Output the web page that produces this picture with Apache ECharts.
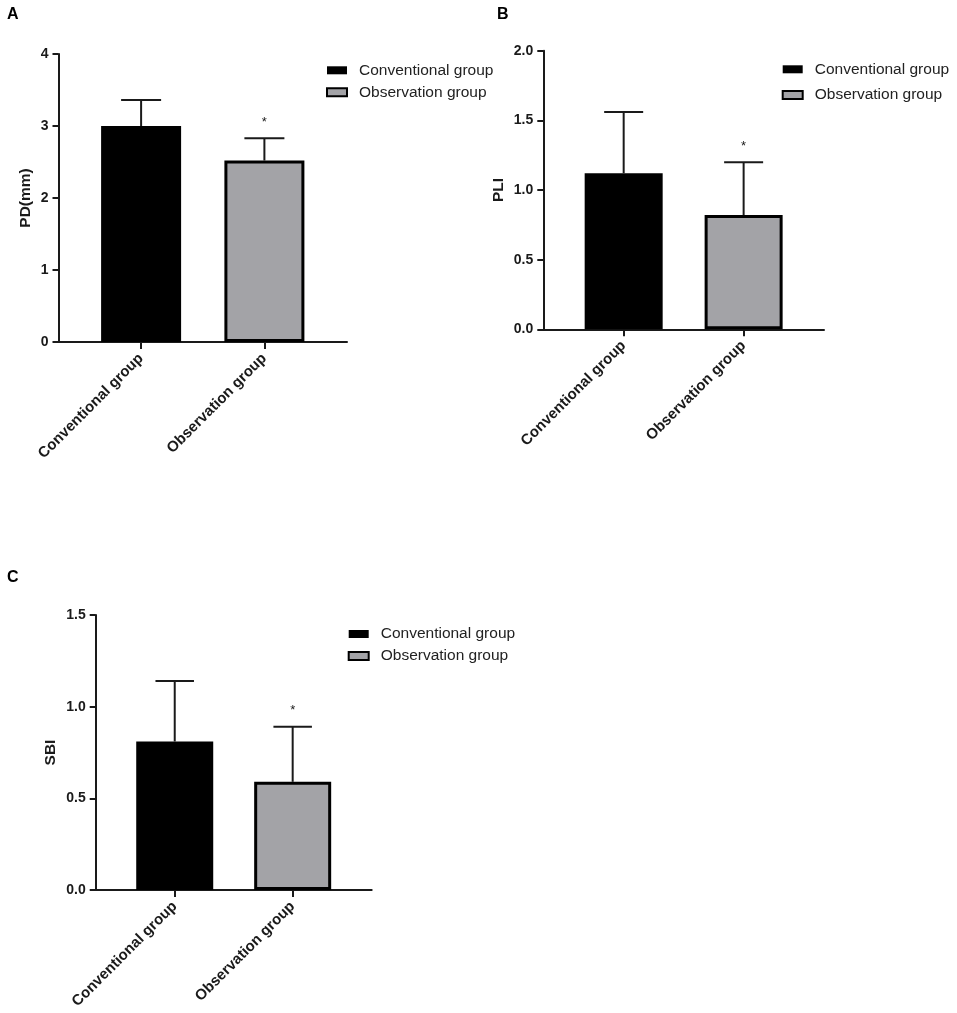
<!DOCTYPE html>
<html>
<head>
<meta charset="utf-8">
<script src="https://cdn.jsdelivr.net/npm/echarts@6/dist/echarts.min.js"></script>
<style>
  html, body { margin: 0; padding: 0; background: #fff; }
  #main { width: 957px; height: 1013px; }
</style>
</head>
<body>
<div id="main"></div>
<script>
// categories and legend names
var groups = ['Conventional group', 'Observation group']

// PD(mm)
var pdMean = [3.0, 2.52]
var pdSd = [0.36, 0.31]
var pdSig = ['', '*']

// PLI
var pliMean = [1.12, 0.82]
var pliSd = [0.44, 0.38]
var pliSig = ['', '*']

// SBI
var sbiMean = [0.81, 0.59]
var sbiSd = [0.33, 0.30]
var sbiSig = ['', '*']

var FONT = "'Liberation Sans', Arial, sans-serif"
var INK = '#1a1a1a'
var GREY = '#a3a3a7'

var myChart = echarts.init(document.getElementById('main'))

// panel layout (positions only)
var panels = [
    { key: 'A', name: 'PD(mm)', mean: pdMean, sd: pdSd, sig: pdSig, max: 4, interval: 1, digits: 0,
      grid: { left: 58.5, top: 54, width: 288.5, height: 288 }, nameGap: 25, barWidth: 80,
      legend: { left: 326, top: 62.3, itemGap: 6 }, title: { left: 7, top: 7 } },
    { key: 'B', name: 'PLI', mean: pliMean, sd: pliSd, sig: pliSig, max: 2, interval: 0.5, digits: 1,
      grid: { left: 543.3, top: 50.7, width: 280.7, height: 278.6 }, nameGap: 37, barWidth: 78,
      legend: { left: 781.7, top: 61.3, itemGap: 9.7 }, title: { left: 497, top: 7 } },
    { key: 'C', name: 'SBI', mean: sbiMean, sd: sbiSd, sig: sbiSig, max: 1.5, interval: 0.5, digits: 1,
      grid: { left: 95.7, top: 615, width: 276, height: 275 }, nameGap: 37, barWidth: 77,
      legend: { left: 347.7, top: 626, itemGap: 6 }, title: { left: 7, top: 570 } }
]

var option = {
    animation: false,
    backgroundColor: '#fff',
    textStyle: { fontFamily: FONT },
    title: [],
    grid: [],
    xAxis: [],
    yAxis: [],
    legend: [],
    series: []
}

panels.forEach(function (p, i) {
    option.title.push({
        text: p.key, left: p.title.left, top: p.title.top, padding: 0,
        textStyle: { fontFamily: FONT, fontSize: 16, fontWeight: 'bold', color: '#000' }
    })
    option.grid.push(Object.assign({ containLabel: false }, p.grid))
    option.xAxis.push({
        type: 'value', gridIndex: i, min: -0.67, max: 1.67,
        splitLine: { show: false },
        axisLine: { show: true, onZero: false, lineStyle: { color: INK, width: 2 } },
        axisTick: { show: true, customValues: [0, 1], length: 7, lineStyle: { color: INK, width: 2 } },
        axisLabel: {
            customValues: [0, 1], rotate: 45, margin: 14,
            fontFamily: FONT, fontSize: 15, fontWeight: 'bold', color: INK,
            formatter: function (v) { return groups[Math.round(v)] }
        }
    })
    option.yAxis.push({
        type: 'value', gridIndex: i, min: 0, max: p.max, interval: p.interval,
        name: p.name, nameLocation: 'middle', nameGap: p.nameGap,
        nameTextStyle: { fontFamily: FONT, fontSize: 15.5, fontWeight: 'bold', color: INK },
        splitLine: { show: false },
        axisLine: { show: true, onZero: false, lineStyle: { color: INK, width: 2 } },
        axisTick: { show: true, length: 6, lineStyle: { color: INK, width: 2 } },
        axisLabel: {
            margin: 10, fontFamily: FONT, fontSize: 14, fontWeight: 'bold', color: INK,
            formatter: function (v) { return v.toFixed(p.digits) }
        }
    })
    option.legend.push({
        orient: 'vertical', left: p.legend.left, top: p.legend.top, itemGap: p.legend.itemGap,
        padding: 0, itemWidth: 20, itemHeight: 8, icon: 'rect', selectedMode: false,
        textStyle: { fontFamily: FONT, fontSize: 15.5, color: '#222', lineHeight: 16, padding: [0, 0, 0, 7] },
        data: [
            { name: groups[0], itemStyle: { color: '#000', borderWidth: 0 } },
            { name: groups[1], itemStyle: { color: GREY, borderColor: '#000', borderWidth: 2 } }
        ]
    })
    option.series.push({
        name: groups[0], type: 'bar', xAxisIndex: i, yAxisIndex: i,
        barWidth: p.barWidth, barGap: '-100%',
        itemStyle: { color: '#000' },
        data: [[0, p.mean[0]]]
    })
    option.series.push({
        name: groups[1], type: 'bar', xAxisIndex: i, yAxisIndex: i,
        barWidth: p.barWidth, barGap: '-100%',
        itemStyle: { color: GREY, borderColor: '#000', borderWidth: 3 },
        data: [[1, p.mean[1]]]
    })
    // upper error bars + significance marks
    option.series.push({
        type: 'custom', xAxisIndex: i, yAxisIndex: i, z: 5,
        data: p.mean.map(function (m, k) { return [k, m, m + p.sd[k]] }),
        renderItem: function (params, api) {
            var base = api.coord([api.value(0), api.value(1)])
            var top = api.coord([api.value(0), api.value(2)])
            var half = p.barWidth / 4
            var st = { stroke: INK, lineWidth: 2 }
            var children = [
                { type: 'line', shape: { x1: base[0], y1: base[1], x2: top[0], y2: top[1] }, style: st },
                { type: 'line', shape: { x1: top[0] - half, y1: top[1], x2: top[0] + half, y2: top[1] }, style: st }
            ]
            var mark = p.sig[params.dataIndex]
            if (mark) {
                children.push({
                    type: 'text',
                    style: { x: top[0], y: top[1] - 16, text: mark, align: 'center', verticalAlign: 'middle',
                             fontFamily: FONT, fontSize: 13, fill: INK }
                })
            }
            return { type: 'group', children: children }
        }
    })
})

myChart.setOption(option)
</script>
</body>
</html>
